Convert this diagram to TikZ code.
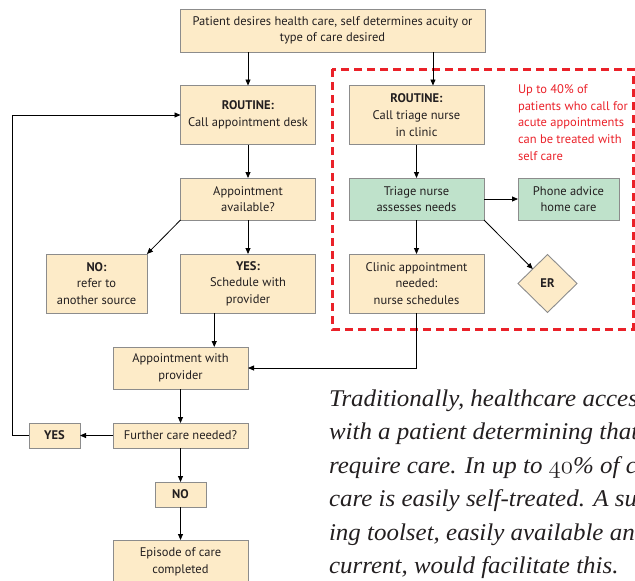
\documentclass[tikz,border=0pt]{standalone}
\usepackage{fontspec}
\newfontfamily\boxfont{PT Sans}
\newfontfamily\notefont{Liberation Serif}[FakeStretch=1.04]
\usetikzlibrary{shapes.geometric,arrows.meta,calc}
\definecolor{beige}{HTML}{FDEBC8}
\definecolor{mint}{HTML}{BFE2CB}
\definecolor{edgegray}{HTML}{8C8C8C}
\definecolor{alertred}{HTML}{EA2129}
\definecolor{inkdark}{HTML}{231F20}
\newcommand{\osf}[1]{{\usefont{OML}{lmm}{b}{it}#1}}
\begin{document}
\begin{tikzpicture}[x=1pt,y=-1pt,
  every node/.style={inner sep=0pt, outer sep=0pt},
  fbox/.style={draw=edgegray, fill=beige, line width=0.9pt, align=center,
    font=\boxfont\fontsize{12.5}{16.7}\selectfont, text=inkdark},
  boxtall/.style={fbox, minimum width=135pt, minimum height=59pt},
  boxmid/.style={fbox, minimum width=135pt, minimum height=42pt},
  boxshort/.style={fbox, minimum width=135pt, minimum height=25pt},
  boxsmall/.style={fbox, minimum width=51pt, minimum height=25pt},
  greenbox/.style={fbox, fill=mint},
  arr/.style={-{Triangle[length=6pt,width=5pt]}, line width=0.8pt, black},
  italline/.style={anchor=base west, font=\notefont\fontsize{24}{33.5}\selectfont\itshape, text=inkdark},
  zone/.style={draw=alertred, line width=3pt, dash pattern=on 8pt off 5pt}
]
\useasboundingbox (0,0) rectangle (635,581);
\clip (0,0) rectangle (635,581);

% dashed zone
\draw[zone] (332,69) rectangle (633,329);

% nodes
\node[fbox, minimum width=305pt, minimum height=43pt] (top) at (332.5,30.5)
  {Patient desires health care, self determines acuity or\\type of care desired};
\node[boxtall] (r1) at (248,115) {\textbf{ROUTINE:}\\Call appointment desk};
\node[boxtall] (r2) at (416.5,115) {\textbf{ROUTINE:}\\Call triage nurse\\in clinic};
\node[anchor=north west, align=left, text=alertred,
  font=\boxfont\fontsize{12.5}{16.7}\selectfont] (note) at (518,84.5)
  {Up to 40\% of\\patients who call for\\acute appointments\\can be treated with\\self care};
\node[boxmid] (avail) at (248,199) {Appointment\\available?};
\node[boxmid, greenbox] (triage) at (416.5,199) {Triage nurse\\assesses needs};
\node[greenbox, minimum width=101pt, minimum height=42pt] (phone) at (568.5,199) {Phone advice\\home care};
\node[fbox, minimum width=101pt, minimum height=59pt] (no1) at (96.5,283.5) {\textbf{NO:}\\refer to\\another source};
\node[boxtall] (yes1) at (248,283.5) {\textbf{YES:}\\Schedule with\\provider};
\node[boxtall] (clinic) at (416.5,283.5) {Clinic appointment\\needed:\\nurse schedules};
\node[fbox, shape=diamond, minimum width=59pt, minimum height=58pt] (er) at (547.5,283.5) {\textbf{ER}};
\node[boxmid] (appt) at (180.5,368) {Appointment with\\provider};
\node[boxshort] (further) at (180.5,435.5) {Further care needed?};
\node[boxsmall] (yes2) at (54.5,435.5) {\textbf{YES}};
\node[boxsmall] (no2) at (180.5,494.5) {\textbf{NO}};
\node[fbox, minimum width=135pt, minimum height=43pt] (episode) at (180.5,561.5) {Episode of care\\completed};

% italic text
\node[italline] (t1) at (329,406) {Traditionally, healthcare access};
\node[italline] (t2) at (329,439.5) {with a patient determining that};
\node[italline] (t3) at (329,473) {require care. In up to \osf{40}\% of ca};
\node[italline] (t4) at (329,506.5) {care is easily self-treated. A sup};
\node[italline] (t5) at (329,540) {ing toolset, easily available and};
\node[italline] (t6) at (329,573.5) {current, would facilitate this.};

% connectors
\coordinate (r2in) at ($(r2.north west)!0.622!(r2.north east)$);
\coordinate (yes1out) at ($(yes1.south west)!0.25!(yes1.south east)$);
\draw[arr] (top.south -| r1.north) -- (r1.north);
\draw[arr] (top.south -| r2in) -- (r2in);
\draw[arr] (r1) -- (avail);
\draw[arr] (avail.south west) -- (no1.north east);
\draw[arr] (avail) -- (yes1);
\draw[arr] (r2) -- (triage);
\draw[arr] (triage) -- (phone);
\draw[arr] (triage) -- (clinic);
\draw[arr] (triage.south east) -- (er.north west);
\draw[arr] (yes1out) -- (yes1out |- appt.north);
\draw[arr] (clinic.south) |- (appt.east);
\draw[arr] (appt) -- (further);
\draw[arr] (further) -- (yes2);
\draw[arr] (further) -- (no2);
\draw[arr] (no2) -- (episode);
\draw[arr] (yes2.west) -- ++(-17,0) |- (r1.west);
\end{tikzpicture}
\end{document}
